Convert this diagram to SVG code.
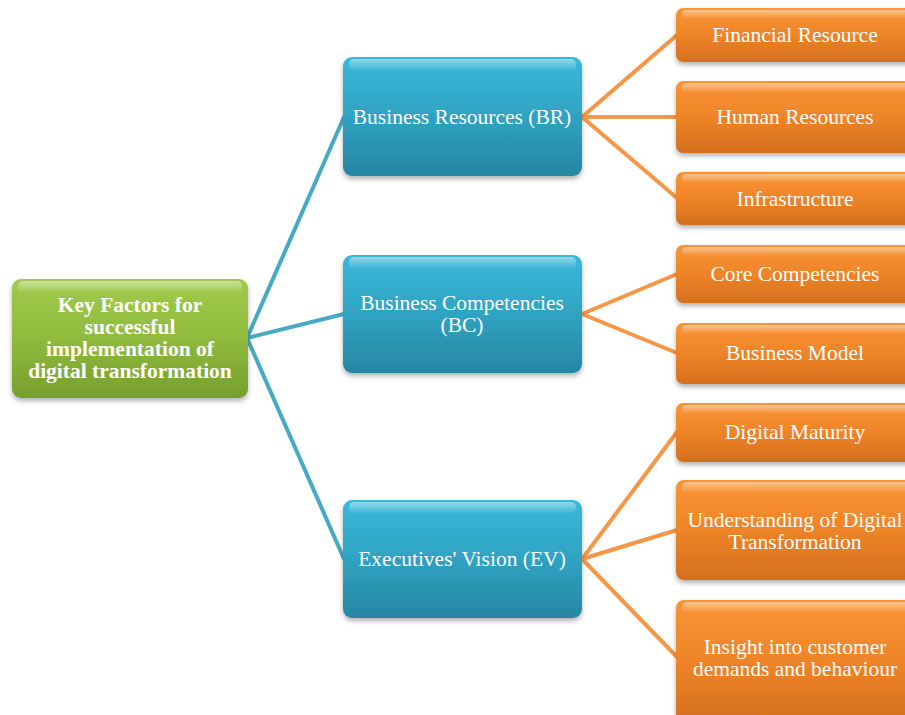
<svg xmlns="http://www.w3.org/2000/svg" width="905" height="715" viewBox="0 0 905 715">
  <defs>
    <linearGradient id="gBlue" x1="0" y1="0" x2="0" y2="1">
      <stop offset="0" stop-color="#3ab8da"/>
      <stop offset="0.5" stop-color="#2fa3c2"/>
      <stop offset="1" stop-color="#2786a2"/>
    </linearGradient>
    <linearGradient id="gOrange" x1="0" y1="0" x2="0" y2="1">
      <stop offset="0" stop-color="#f99436"/>
      <stop offset="0.5" stop-color="#ee8428"/>
      <stop offset="1" stop-color="#d46f1e"/>
    </linearGradient>
    <linearGradient id="gGreen" x1="0" y1="0" x2="0" y2="1">
      <stop offset="0" stop-color="#a2cb4c"/>
      <stop offset="0.5" stop-color="#8fba3c"/>
      <stop offset="1" stop-color="#779f2e"/>
    </linearGradient>
    <linearGradient id="gGloss" x1="0" y1="0" x2="0" y2="1">
      <stop offset="0" stop-color="#ffffff" stop-opacity="0.45"/>
      <stop offset="1" stop-color="#ffffff" stop-opacity="0"/>
    </linearGradient>
    <filter id="shadow" x="-10%" y="-10%" width="120%" height="130%">
      <feDropShadow dx="0" dy="3" stdDeviation="2.5" flood-color="#000" flood-opacity="0.3"/>
    </filter>
  </defs>
  <style>
    .link-blue { stroke: #47aac4; stroke-width: 4; fill: none; stroke-linecap: round; }
    .link-orange { stroke: #f79646; stroke-width: 4; fill: none; stroke-linecap: round; }
    .box { filter: url(#shadow); }
    .gloss { fill: url(#gGloss); }
    .label { font-family: "Liberation Serif", "Times New Roman", serif; font-size: 21.5px; fill: #ffffff; text-anchor: middle; }
    .bold { font-weight: bold; }
  </style>

  <rect width="905" height="715" fill="#ffffff"/>

  <g id="connectors">
    <line class="link-blue" x1="247" y1="338" x2="344" y2="117"/>
    <line class="link-blue" x1="247" y1="338" x2="344" y2="314"/>
    <line class="link-blue" x1="247" y1="338" x2="344" y2="559"/>
    <line class="link-orange" x1="582" y1="117" x2="677" y2="35"/>
    <line class="link-orange" x1="582" y1="117" x2="677" y2="117"/>
    <line class="link-orange" x1="582" y1="117" x2="677" y2="198"/>
    <line class="link-orange" x1="582" y1="314" x2="677" y2="274"/>
    <line class="link-orange" x1="582" y1="314" x2="677" y2="353"/>
    <line class="link-orange" x1="582" y1="559" x2="677" y2="432"/>
    <line class="link-orange" x1="582" y1="559" x2="677" y2="530"/>
    <line class="link-orange" x1="582" y1="559" x2="677" y2="657"/>
  </g>

  <g id="root">
    <rect class="box" x="12" y="279" width="236" height="119" rx="9" fill="url(#gGreen)"/>
    <rect class="gloss" x="18" y="281" width="224" height="12" rx="5"/>
    <text class="label bold" x="130" y="312">Key Factors for</text>
    <text class="label bold" x="130" y="334">successful</text>
    <text class="label bold" x="130" y="356">implementation of</text>
    <text class="label bold" x="130" y="378">digital transformation</text>
  </g>

  <g id="br">
    <rect class="box" x="343" y="57" width="239" height="119" rx="9" fill="url(#gBlue)"/>
    <rect class="gloss" x="349" y="59" width="227" height="12" rx="5"/>
    <text class="label" x="462" y="124">Business Resources (BR)</text>
  </g>

  <g id="bc">
    <rect class="box" x="343" y="255" width="239" height="118" rx="9" fill="url(#gBlue)"/>
    <rect class="gloss" x="349" y="257" width="227" height="12" rx="5"/>
    <text class="label" x="462" y="310">Business Competencies</text>
    <text class="label" x="462" y="332">(BC)</text>
  </g>

  <g id="ev">
    <rect class="box" x="343" y="500" width="239" height="118" rx="9" fill="url(#gBlue)"/>
    <rect class="gloss" x="349" y="502" width="227" height="12" rx="5"/>
    <text class="label" x="462" y="566">Executives' Vision (EV)</text>
  </g>

  <g id="financial">
    <rect class="box" x="676" y="8" width="240" height="54" rx="7" fill="url(#gOrange)"/>
    <rect class="gloss" x="682" y="10" width="228" height="9" rx="4"/>
    <text class="label" x="795" y="42">Financial Resource</text>
  </g>

  <g id="human">
    <rect class="box" x="676" y="81" width="240" height="72" rx="7" fill="url(#gOrange)"/>
    <rect class="gloss" x="682" y="83" width="228" height="10" rx="4"/>
    <text class="label" x="795" y="124">Human Resources</text>
  </g>

  <g id="infrastructure">
    <rect class="box" x="676" y="172" width="240" height="53" rx="7" fill="url(#gOrange)"/>
    <rect class="gloss" x="682" y="174" width="228" height="9" rx="4"/>
    <text class="label" x="795" y="206">Infrastructure</text>
  </g>

  <g id="core">
    <rect class="box" x="676" y="245" width="240" height="58" rx="7" fill="url(#gOrange)"/>
    <rect class="gloss" x="682" y="247" width="228" height="9" rx="4"/>
    <text class="label" x="795" y="281">Core Competencies</text>
  </g>

  <g id="model">
    <rect class="box" x="676" y="323" width="240" height="61" rx="7" fill="url(#gOrange)"/>
    <rect class="gloss" x="682" y="325" width="228" height="9" rx="4"/>
    <text class="label" x="795" y="360">Business Model</text>
  </g>

  <g id="maturity">
    <rect class="box" x="676" y="403" width="240" height="59" rx="7" fill="url(#gOrange)"/>
    <rect class="gloss" x="682" y="405" width="228" height="9" rx="4"/>
    <text class="label" x="795" y="439">Digital Maturity</text>
  </g>

  <g id="understanding">
    <rect class="box" x="676" y="480" width="240" height="100" rx="8" fill="url(#gOrange)"/>
    <rect class="gloss" x="682" y="482" width="228" height="11" rx="5"/>
    <text class="label" x="795" y="527">Understanding of Digital</text>
    <text class="label" x="795" y="549">Transformation</text>
  </g>

  <g id="insight">
    <rect class="box" x="676" y="600" width="240" height="124" rx="8" fill="url(#gOrange)"/>
    <rect class="gloss" x="682" y="602" width="228" height="11" rx="5"/>
    <text class="label" x="795" y="654">Insight into customer</text>
    <text class="label" x="795" y="676">demands and behaviour</text>
  </g>
</svg>
